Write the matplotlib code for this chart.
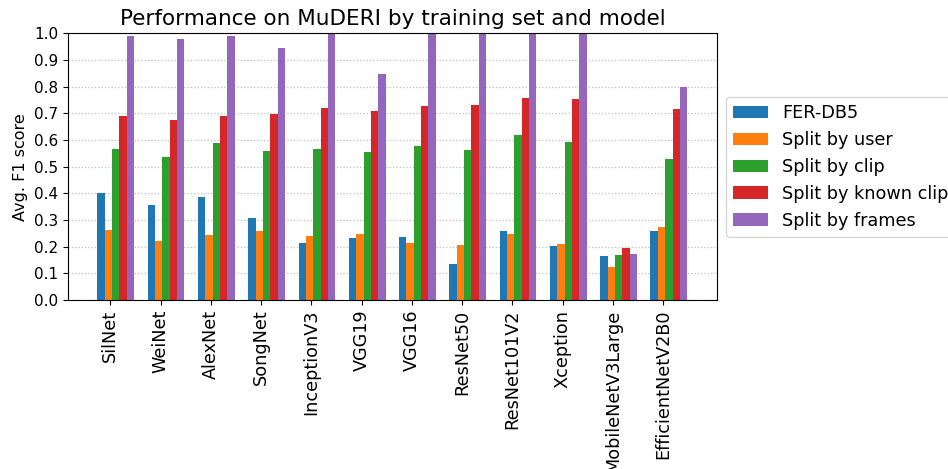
import matplotlib
matplotlib.use("Agg")
import matplotlib.pyplot as plt
import numpy as np

models = ["SilNet", "WeiNet", "AlexNet", "SongNet", "InceptionV3", "VGG19", "VGG16",
          "ResNet50", "ResNet101V2", "Xception", "MobileNetV3Large", "EfficientNetV2B0"]
series_names = ["FER-DB5", "Split by user", "Split by clip", "Split by known clip", "Split by frames"]
fer_db5 = [0.400, 0.356, 0.386, 0.306, 0.213, 0.231, 0.235, 0.135, 0.258, 0.201, 0.165, 0.258]
split_user = [0.264, 0.220, 0.243, 0.260, 0.239, 0.249, 0.213, 0.205, 0.246, 0.209, 0.124, 0.273]
split_clip = [0.565, 0.535, 0.588, 0.558, 0.565, 0.554, 0.576, 0.561, 0.618, 0.591, 0.169, 0.528]
split_known_clip = [0.691, 0.676, 0.691, 0.699, 0.720, 0.709, 0.728, 0.731, 0.758, 0.754, 0.194, 0.718]
split_frames = [0.991, 0.980, 0.988, 0.944, 1.000, 0.846, 1.000, 1.000, 1.000, 1.000, 0.171, 0.800]
colors = ["#1f77b4", "#ff7f0e", "#2ca02c", "#d62728", "#9467bd"]

series = [fer_db5, split_user, split_clip, split_known_clip, split_frames]

fig = plt.figure(figsize=(9.48, 4.69), dpi=100)
ax = fig.add_axes([0.0717, 0.3603, 0.756 - 0.0717, 0.929 - 0.3603])

x = np.arange(len(models))
w = 0.146
start = -0.255
for i, (vals, name, c) in enumerate(zip(series, series_names, colors)):
    ax.bar(x + start + i * w, vals, width=w, align="edge", color=c, label=name)

ax.set_ylim(0, 1.0)
ax.set_yticks(np.arange(0, 1.01, 0.1))
ax.set_yticklabels([f"{v:.1f}" for v in np.arange(0, 1.01, 0.1)], fontsize=11)
ax.set_xticks(x)
ax.set_xticklabels(models, rotation=90, fontsize=12.7)
ax.set_ylabel("Avg. F1 score", fontsize=11.5)
ax.set_title("Performance on MuDERI by training set and model", fontsize=15.5)
ax.yaxis.grid(True, linestyle=":", color="#c0c0c0", linewidth=0.9)
ax.set_axisbelow(True)

ax.legend(loc="upper left", bbox_to_anchor=(726 / 948, 1 - 97.3 / 469),
          bbox_transform=fig.transFigure, borderaxespad=0, fontsize=12.7)

fig.savefig("out.png", dpi=100)
